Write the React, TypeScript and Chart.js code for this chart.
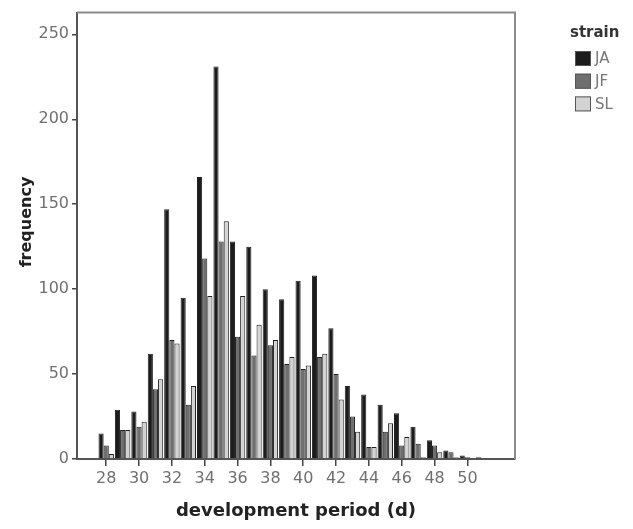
import React, { useEffect, useRef } from "react";
import { Chart, registerables } from "chart.js";

Chart.register(...registerables);

// ---- data ----
const days = [28, 29, 30, 31, 32, 33, 34, 35, 36, 37, 38, 39, 40, 41, 42, 43, 44, 45, 46, 47, 48, 49, 50, 51];
const ja = [15, 29, 28, 62, 147, 95, 166, 231, 128, 125, 100, 94, 105, 108, 77, 43, 38, 32, 27, 19, 11, 5, 2, 1];
const jf = [8, 17, 19, 41, 70, 32, 118, 128, 72, 61, 67, 56, 53, 60, 50, 25, 7, 16, 8, 9, 8, 4, 1, 0];
const sl = [3, 17, 22, 47, 68, 43, 96, 140, 96, 79, 70, 60, 55, 62, 35, 16, 7, 21, 13, 1, 4, 1, 0.5, 0];
const seriesNames = ["JA", "JF", "SL"];
const seriesColors = ["#1c1c1c", "#6f6f6f", "#d3d3d3"];
const xTickValues = [28, 30, 32, 34, 36, 38, 40, 42, 44, 46, 48, 50];
const yTickValues = [0, 50, 100, 150, 200, 250];
const legendTitle = "strain";
const xTitle = "development period (d)";
const yTitle = "frequency";

const FONT = '"DejaVu Sans", "Liberation Sans", Arial, sans-serif';

const framePlugin = {
  id: "frame",
  afterDraw(chart: any) {
    const { ctx, chartArea } = chart;
    ctx.save();
    ctx.strokeStyle = "#8a8a8a";
    ctx.lineWidth = 2;
    ctx.beginPath();
    ctx.moveTo(chartArea.left, chartArea.top);
    ctx.lineTo(chartArea.right, chartArea.top);
    ctx.lineTo(chartArea.right, chartArea.bottom);
    ctx.stroke();
    ctx.restore();
  },
};

const yTitlePlugin = {
  id: "yTitle",
  afterDraw(chart: any) {
    const ctx = chart.ctx;
    ctx.save();
    ctx.translate(27, 222);
    ctx.rotate(-Math.PI / 2);
    ctx.font = `bold 16px ${FONT}`;
    ctx.fillStyle = "#222";
    ctx.textAlign = "center";
    ctx.textBaseline = "middle";
    ctx.fillText(yTitle, 0, 0);
    ctx.restore();
  },
};

const legendPlugin = {
  id: "customLegend",
  afterDraw(chart: any) {
    const ctx = chart.ctx;
    ctx.save();
    ctx.font = `bold 15px ${FONT}`;
    ctx.fillStyle = "#333";
    ctx.textBaseline = "alphabetic";
    ctx.textAlign = "left";
    ctx.fillText(legendTitle, 570, 36.5);
    chart.data.datasets.forEach((ds: any, i: number) => {
      const y = 51 + i * 22.7;
      ctx.fillStyle = ds.backgroundColor;
      ctx.fillRect(575, y, 16, 15);
      ctx.strokeStyle = "#555";
      ctx.lineWidth = 1;
      ctx.strokeRect(575.5, y + 0.5, 15, 14);
      ctx.fillStyle = "#777";
      ctx.font = `15px ${FONT}`;
      ctx.textBaseline = "middle";
      ctx.fillText(ds.label, 595, y + 8.5);
    });
    ctx.restore();
  },
};

export default function App() {
  const canvasRef = useRef<HTMLCanvasElement | null>(null);

  useEffect(() => {
    if (!canvasRef.current) return;
    const series = [ja, jf, sl];
    const chart = new Chart(canvasRef.current, {
      type: "bar",
      data: {
        datasets: series.map((vals, si) => ({
          label: seriesNames[si],
          data: days.map((d, i) => ({ x: d, y: vals[i] })),
          backgroundColor: seriesColors[si],
          borderColor: "#222",
          borderWidth: 1,
          categoryPercentage: 0.94,
          barPercentage: 1,
        })),
      },
      options: {
        animation: false,
        responsive: false,
        layout: { padding: { top: 8, right: 118, bottom: 0, left: 0 } },
        plugins: {
          legend: { display: false },
          tooltip: { enabled: false },
        },
        scales: {
          x: {
            type: "linear",
            min: 26.22,
            max: 52.9,
            offset: false,
            afterBuildTicks: (scale: any) => {
              scale.ticks = xTickValues.map((v) => ({ value: v }));
            },
            afterFit: (scale: any) => {
              scale.height = 70;
            },
            grid: {
              display: true,
              drawOnChartArea: false,
              drawTicks: true,
              tickLength: 7,
              color: "#444",
              lineWidth: 1.5,
              offset: false,
            },
            border: { display: true, color: "#555", width: 2 },
            ticks: {
              color: "#707070",
              font: { family: FONT, size: 16 },
              padding: 3,
              maxRotation: 0,
              autoSkip: false,
              callback: (v: any) => String(v),
            },
            title: {
              display: true,
              text: xTitle,
              color: "#222",
              font: { family: FONT, size: 18, weight: "bold" },
              padding: { top: 0, bottom: 7 },
            },
          },
          y: {
            type: "linear",
            min: 0,
            max: 262.8,
            afterBuildTicks: (scale: any) => {
              scale.ticks = yTickValues.map((v) => ({ value: v }));
            },
            afterFit: (scale: any) => {
              scale.width = 77;
            },
            grid: {
              display: true,
              drawOnChartArea: false,
              drawTicks: true,
              tickLength: 5,
              color: "#444",
              lineWidth: 1.5,
            },
            border: { display: true, color: "#555", width: 2 },
            ticks: {
              color: "#707070",
              font: { family: FONT, size: 16 },
              padding: 3,
              callback: (v: any) => String(v),
            },
            title: { display: false },
          },
        },
      } as any,
      plugins: [framePlugin, yTitlePlugin, legendPlugin],
    });
    return () => chart.destroy();
  }, []);

  return (
    <canvas
      ref={canvasRef}
      width={633}
      height={529}
      style={{ position: "fixed", left: 0, top: 0, width: 633, height: 529, display: "block", background: "#fff" }}
    />
  );
}
